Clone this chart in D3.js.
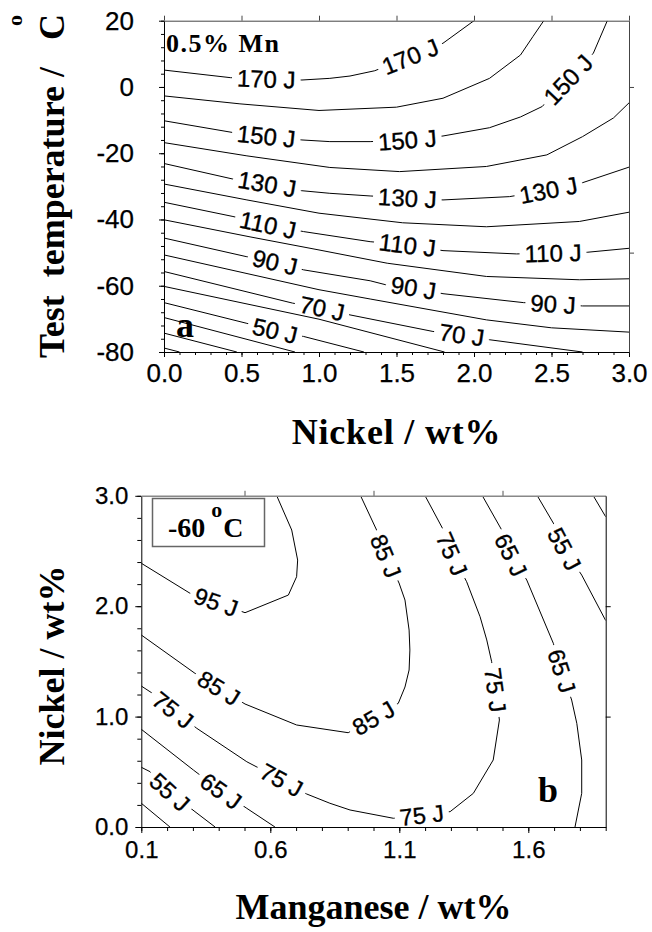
<!DOCTYPE html>
<html>
<head>
<meta charset="utf-8">
<script src="https://cdn.jsdelivr.net/npm/d3@7"></script>
<style>
  body { margin: 0; background: #fff; }
  svg { display: block; }
</style>
</head>
<body>
<script>
// ---------- Panel (a): impact energy vs nickel and test temperature, 0.5% Mn ----------
const niTicksA = [0, 0.5, 1.0, 1.5, 2.0, 2.5, 3.0];
const tempTicksA = [-80, -60, -40, -20, 0, 20];
const levelsA = [170, 160, 150, 140, 130, 120, 110, 100, 90, 80, 70, 60, 50, 40, 30, 20];
// each contour: [nickel wt%, temperature °C]
const linesA = [
  [[0,5.1],[0.43,2.8],[0.89,2.1],[1.07,2.6],[1.2,3.3],[1.36,4.9],[1.8,13.2],[2.0,20]],
  [[0,-2.7],[0.49,-5.1],[1.0,-7.1],[1.5,-6.1],[1.8,-3.4],[2.1,2.6],[2.3,9.65],[2.38,15.2],[2.45,20]],
  [[0,-10.2],[0.45,-13.8],[0.89,-16.0],[1.07,-16.5],[1.33,-16.5],[1.57,-16.0],[1.8,-14.8],[2.1,-12.3],[2.3,-9.05],[2.44,-5.9],[2.77,10.2],[2.86,20]],
  [[0,-16.8],[0.535,-20.8],[1.07,-24.3],[1.52,-25.55],[2.08,-24.0],[2.47,-20.5],[2.7,-15.0],[2.9,-9.35],[3.0,-4.8]],
  [[0,-23.1],[0.44,-27.75],[0.665,-29.3],[0.886,-31.3],[1.07,-32.1],[1.33,-32.9],[1.57,-33.5],[1.8,-34.1],[2.23,-33.1],[2.48,-31.1],[2.7,-28.9],[3.0,-24.2]],
  [[0,-29.3],[0.535,-34.1],[1.0,-38.1],[1.54,-41.0],[2.08,-42.2],[2.68,-40.6],[3.0,-37.8]],
  [[0,-34.8],[0.445,-39.1],[0.67,-41.6],[0.9,-43.65],[1.33,-46.7],[1.57,-47.7],[1.8,-49.4],[2.275,-50.4],[2.51,-50.1],[2.73,-49.9],[3.0,-48.7]],
  [[0,-40.1],[0.555,-45.25],[1.0,-49.2],[1.44,-53.2],[2.08,-57.2],[2.68,-58.2],[3.0,-57.9]],
  [[0,-45.6],[0.53,-51.2],[0.716,-52.9],[0.9,-55.2],[1.33,-58.5],[1.43,-59.7],[1.61,-60.6],[1.8,-62.4],[2.32,-65.1],[2.51,-65.5],[2.7,-66.1],[3.0,-66.1]],
  [[0,-50.7],[1.0,-61.2],[1.33,-64.0],[2.08,-70.3],[2.5,-72.7],[3.0,-74.0]],
  [[0,-55.7],[0.83,-65.25],[1.02,-66.8],[1.2,-68.8],[1.735,-73.8],[1.92,-74.8],[2.1,-76.3],[2.7,-80]],
  [[0,-60.2],[1.0,-70.1],[1.81,-80]],
  [[0,-65.1],[0.53,-71.3],[0.716,-73.6],[0.9,-75.3],[1.29,-80]],
  [[0,-69.6],[0.845,-80]],
  [[0,-74.3],[0.47,-80]],
  [[0,-78.8],[0.1,-80]]
];
// contour labels: [contour index, nickel, temperature]
const labelsA = [
  [0,0.66,2.45],[0,1.59,9.0],
  [2,0.66,-14.8],[2,1.57,-16.0],[2,2.61,2.1],
  [4,0.665,-29.3],[4,1.57,-33.5],[4,2.48,-31.1],
  [6,0.67,-41.6],[6,1.57,-47.7],[6,2.51,-50.1],
  [8,0.716,-52.9],[8,1.61,-60.6],[8,2.51,-65.5],
  [10,1.02,-66.8],[10,1.92,-74.8],
  [12,0.716,-73.6]
];

// ---------- Panel (b): impact energy vs manganese and nickel at -60 °C ----------
const mnTicksB = [0.1, 0.6, 1.1, 1.6];
const niTicksB = [0, 1, 2, 3];
const levelsB = [95, 85, 75, 65, 65, 55, 55, 45, 45];
// each contour: [manganese wt%, nickel wt%]
const linesB = [
  [[0.1,2.389],[0.289,2.117],[0.39,2.038],[0.502,1.941],[0.67,2.101],[0.702,2.267],[0.706,2.418],[0.683,2.69],[0.625,3.0]],
  [[0.1,1.739],[0.308,1.392],[0.401,1.259],[0.502,1.114],[0.702,0.924],[0.902,0.854],[1.096,1.12],[1.122,1.268],[1.138,1.422],[1.141,1.603],[1.138,1.784],[1.122,2.056],[1.099,2.21],[1.048,2.455],[1.012,2.69],[0.95,3.0]],
  [[0.1,1.277],[0.14,1.216],[0.223,1.06],[0.315,0.894],[0.509,0.591],[0.644,0.426],[0.741,0.299],[0.831,0.215],[0.909,0.154],[1.077,0.079],[1.187,0.109],[1.297,0.139],[1.387,0.305],[1.464,0.607],[1.488,0.969],[1.473,1.241],[1.458,1.497],[1.439,1.694],[1.413,1.905],[1.361,2.222],[1.304,2.473],[1.271,2.69],[1.2,3.0]],
  [[0.1,0.885],[0.302,0.516],[0.409,0.326],[0.509,0.169],[0.618,0]],
  [[1.422,3.0],[1.497,2.69],[1.533,2.464],[1.594,2.237],[1.697,1.664],[1.73,1.413],[1.768,1.15],[1.788,0.939],[1.807,0.607],[1.807,0.305],[1.781,0]],
  [[0.1,0.541],[0.134,0.501],[0.211,0.317],[0.308,0.139],[0.386,0]],
  [[1.635,3.0],[1.697,2.753],[1.74,2.518],[1.807,2.282],[1.9,1.87]],
  [[0.1,0.215],[0.211,0]],
  [[1.852,3.0],[1.9,2.81]]
];
// contour labels: [contour index, manganese, nickel]
const labelsB = [
  [0,0.39,2.038],
  [1,0.401,1.259],[1,0.998,0.996],[1,1.048,2.455],
  [2,0.223,1.06],[2,0.644,0.426],[2,1.187,0.109],[2,1.473,1.241],[2,1.304,2.473],
  [3,0.409,0.326],
  [4,1.533,2.464],[4,1.73,1.413],
  [5,0.211,0.317],
  [6,1.74,2.518]
];

const W = 652, H = 932;
const SANS = '"Liberation Sans", Arial, Helvetica, sans-serif';
const SERIF = '"Liberation Serif", "Times New Roman", Times, serif';
const TITLE = 36;

const svg = d3.select('body').append('svg')
  .attr('width', W).attr('height', H)
  .style('font-family', SANS);
const defs = svg.append('defs');

// nearest point on a screen polyline, and the chord direction across a label of width w
function placeOnLine(scr, p, w) {
  const cum = [0];
  for (let i = 1; i < scr.length; i++) {
    cum.push(cum[i - 1] + Math.hypot(scr[i][0] - scr[i - 1][0], scr[i][1] - scr[i - 1][1]));
  }
  let best = { d: Infinity, s: 0 };
  for (let i = 1; i < scr.length; i++) {
    const [ax, ay] = scr[i - 1], [bx, by] = scr[i];
    const dx = bx - ax, dy = by - ay, L2 = dx * dx + dy * dy || 1;
    let t = ((p[0] - ax) * dx + (p[1] - ay) * dy) / L2;
    t = Math.max(0, Math.min(1, t));
    const qx = ax + t * dx, qy = ay + t * dy;
    const d = Math.hypot(p[0] - qx, p[1] - qy);
    if (d < best.d) best = { d, s: cum[i - 1] + t * Math.sqrt(L2) };
  }
  const total = cum[cum.length - 1];
  const at = s => {
    s = Math.max(0, Math.min(total, s));
    for (let i = 1; i < scr.length; i++) {
      if (s <= cum[i] || i === scr.length - 1) {
        const seg = cum[i] - cum[i - 1] || 1;
        const t = (s - cum[i - 1]) / seg;
        return [scr[i - 1][0] + t * (scr[i][0] - scr[i - 1][0]), scr[i - 1][1] + t * (scr[i][1] - scr[i - 1][1])];
      }
    }
  };
  const c = at(best.s), a = at(best.s - w / 2), b = at(best.s + w / 2);
  let ang = Math.atan2(b[1] - a[1], b[0] - a[0]) * 180 / Math.PI;
  if (ang > 90) ang -= 180;
  if (ang < -90) ang += 180;
  return { c, ang };
}

function drawContours(id, x, y, lines, levels, labels, fontSize) {
  const [x0, x1] = x.range(), [yb, yt] = y.range();
  defs.append('clipPath').attr('id', id + 'clip').append('rect')
    .attr('x', x0).attr('y', yt).attr('width', x1 - x0).attr('height', yb - yt);
  const lineGen = d3.line().x(d => x(d[0])).y(d => y(d[1]));
  const gLines = svg.append('g').attr('clip-path', `url(#${id}clip)`);
  const gText = svg.append('g');
  lines.forEach((pts, i) => {
    const scr = pts.map(d => [x(d[0]), y(d[1])]);
    const mask = defs.append('mask').attr('id', `${id}m${i}`)
      .attr('maskUnits', 'userSpaceOnUse')
      .attr('x', 0).attr('y', 0).attr('width', W).attr('height', H);
    mask.append('rect').attr('width', W).attr('height', H).attr('fill', '#fff');
    labels.filter(l => l[0] === i).forEach(l => {
      const t = gText.append('text')
        .attr('font-size', fontSize).attr('text-anchor', 'middle')
        .attr('dy', '0.36em').attr('fill', '#000')
        .attr('stroke', '#000').attr('stroke-width', 0.35)
        .text(`${levels[i]} J`);
      const w = t.node().getComputedTextLength();
      const { c, ang } = placeOnLine(scr, [x(l[1]), y(l[2])], w);
      const tr = `translate(${c[0]},${c[1]}) rotate(${ang})`;
      t.attr('transform', tr);
      mask.append('rect')
        .attr('x', -w / 2 - 5).attr('y', -fontSize * 0.5)
        .attr('width', w + 10).attr('height', fontSize)
        .attr('fill', '#000').attr('transform', tr);
    });
    gLines.append('path')
      .attr('d', lineGen(pts))
      .attr('fill', 'none').attr('stroke', '#000').attr('stroke-width', 1)
      .attr('mask', `url(#${id}m${i})`);
  });
}

function styleAxis(g, fontSize) {
  g.attr('font-family', SANS).attr('font-size', fontSize);
  g.selectAll('text').attr('fill', '#000').attr('stroke', '#000').attr('stroke-width', 0.25);
  g.selectAll('line').attr('stroke', '#000');
  g.select('.domain').attr('stroke', '#000');
}

// ===== Panel (a) =====
const xA = d3.scaleLinear().domain([0, 3]).range([164, 629]);
const yA = d3.scaleLinear().domain([-80, 20]).range([352, 20.7]);

drawContours('a', xA, yA, linesA, levelsA, labelsA, 24);

// minor ticks
svg.append('g').attr('transform', `translate(${xA(0)},0)`)
  .call(d3.axisLeft(yA).tickValues(d3.range(-80, 21, 4)).tickSize(3).tickFormat(''))
  .call(g => { g.select('.domain').remove(); g.selectAll('line').attr('stroke', '#000'); });
svg.append('g').attr('transform', `translate(0,${yA(-80)})`)
  .call(d3.axisBottom(xA).tickValues(d3.range(0, 31).map(d => d / 10)).tickSize(3).tickFormat(''))
  .call(g => { g.select('.domain').remove(); g.selectAll('line').attr('stroke', '#000'); });
// major axes
svg.append('g').attr('transform', `translate(${xA(0)},0)`)
  .call(d3.axisLeft(yA).tickValues(tempTicksA).tickSize(5).tickSizeOuter(0).tickPadding(25).tickFormat(d => String(d)))
  .call(g => styleAxis(g, 26));
svg.append('g').attr('transform', `translate(0,${yA(-80)})`)
  .call(d3.axisBottom(xA).tickValues(niTicksA).tickSize(5).tickSizeOuter(0).tickPadding(7).tickFormat(d3.format('.1f')))
  .call(g => styleAxis(g, 26));
svg.append('g').attr('transform', `translate(0,${yA(20)})`)
  .call(d3.axisTop(xA).tickValues(niTicksA).tickSize(5).tickSizeOuter(0).tickFormat(''))
  .call(g => { g.selectAll('line').attr('stroke', '#444'); g.select('.domain').attr('stroke', '#444'); });
svg.append('g').attr('transform', `translate(${xA(3)},0)`)
  .call(d3.axisRight(yA).tickValues([0, -50]).tickSize(5).tickSizeOuter(0).tickFormat(''))
  .call(g => { g.selectAll('line').attr('stroke', '#444'); g.select('.domain').attr('stroke', '#444'); });

svg.append('text').attr('x', 166).attr('y', 52)
  .attr('font-family', SERIF).attr('font-weight', 'bold').attr('font-size', 26)
  .attr('letter-spacing', 1.5).text('0.5% Mn');
svg.append('text').attr('x', 176).attr('y', 337)
  .attr('font-family', SERIF).attr('font-weight', 'bold').attr('font-size', 36).text('a');

svg.append('text').attr('x', (xA(0) + xA(3)) / 2).attr('y', 444)
  .attr('text-anchor', 'middle')
  .attr('font-family', SERIF).attr('font-weight', 'bold').attr('font-size', TITLE)
  .attr('letter-spacing', 0.8)
  .text('Nickel / wt%');

const tTitle = svg.append('text')
  .attr('transform', 'translate(64,358) rotate(-90)')
  .attr('font-family', SERIF).attr('font-weight', 'bold').attr('font-size', TITLE)
  .style('white-space', 'pre');
tTitle.append('tspan').text('Test  temperature / ');
tTitle.append('tspan').attr('dx', 18).text('C');
tTitle.append('tspan').attr('dx', -12).attr('dy', -42).attr('font-size', 22).text('o');

// ===== Panel (b) =====
const xB = d3.scaleLinear().domain([0.1, 1.9]).range([141.3, 605.7]);
const yB = d3.scaleLinear().domain([0, 3]).range([827, 495.8]);

drawContours('b', xB, yB, linesB, levelsB, labelsB, 23.5);

svg.append('g').attr('transform', `translate(${xB(0.1)},0)`)
  .call(d3.axisLeft(yB).tickValues(d3.range(0, 16).map(d => d / 5)).tickSize(4).tickFormat(''))
  .call(g => { g.select('.domain').remove(); g.selectAll('line').attr('stroke', '#000'); });
svg.append('g').attr('transform', `translate(0,${yB(0)})`)
  .call(d3.axisBottom(xB).tickValues(d3.range(1, 20).map(d => d / 10)).tickSize(4).tickFormat(''))
  .call(g => { g.select('.domain').remove(); g.selectAll('line').attr('stroke', '#000'); });
svg.append('g').attr('transform', `translate(${xB(0.1)},0)`)
  .call(d3.axisLeft(yB).tickValues(niTicksB).tickSize(6).tickSizeOuter(0).tickPadding(7).tickFormat(d3.format('.1f')))
  .call(g => styleAxis(g, 24));
svg.append('g').attr('transform', `translate(0,${yB(0)})`)
  .call(d3.axisBottom(xB).tickValues(mnTicksB).tickSize(6).tickSizeOuter(0).tickPadding(8).tickFormat(d3.format('.1f')))
  .call(g => styleAxis(g, 24));
svg.append('g').attr('transform', `translate(0,${yB(3)})`)
  .call(d3.axisTop(xB).tickValues([0.5, 1.0, 1.5]).tickSize(5).tickSizeOuter(0).tickFormat(''))
  .call(g => { g.selectAll('line').attr('stroke', '#555'); g.select('.domain').attr('stroke', '#888').attr('stroke-width', 1.5); });
svg.append('g').attr('transform', `translate(${xB(1.9)},0)`)
  .call(d3.axisRight(yB).tickValues([1, 2]).tickSize(5).tickSizeOuter(0).tickFormat(''))
  .call(g => { g.selectAll('line').attr('stroke', '#000'); g.select('.domain').attr('stroke', '#000'); });

// temperature box
svg.append('rect').attr('x', 152.5).attr('y', 498.5).attr('width', 112).attr('height', 48)
  .attr('fill', '#fff').attr('stroke', '#666').attr('stroke-width', 1.5);
const boxT = svg.append('text').attr('x', 168).attr('y', 537)
  .attr('font-family', SERIF).attr('font-weight', 'bold').attr('font-size', 28);
boxT.append('tspan').text('-60');
boxT.append('tspan').attr('dx', 6).attr('dy', -20).attr('font-size', 22).text('o');
boxT.append('tspan').attr('dx', 1).attr('dy', 20).text('C');

svg.append('text').attr('x', 538).attr('y', 802)
  .attr('font-family', SERIF).attr('font-weight', 'bold').attr('font-size', 36).text('b');

svg.append('text').attr('x', (xB(0.1) + xB(1.9)) / 2).attr('y', 919)
  .attr('text-anchor', 'middle')
  .attr('font-family', SERIF).attr('font-weight', 'bold').attr('font-size', TITLE)
  .text('Manganese / wt%');
svg.append('text')
  .attr('transform', `translate(64,${(yB(0) + yB(3)) / 2 + 4}) rotate(-90)`)
  .attr('text-anchor', 'middle')
  .attr('font-family', SERIF).attr('font-weight', 'bold').attr('font-size', TITLE)
  .text('Nickel / wt%');
</script>
</body>
</html>
